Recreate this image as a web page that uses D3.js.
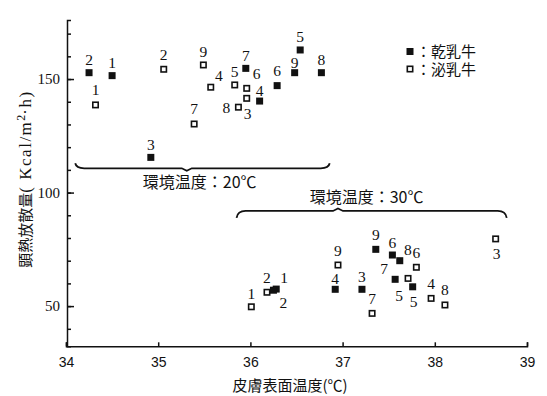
<!DOCTYPE html>
<html>
<head>
<meta charset="utf-8">
<script src="https://cdn.jsdelivr.net/npm/d3@7"></script>
<style>
  body { margin: 0; background: #fff; }
  svg { display: block; }
</style>
</head>
<body>
<div id="wrapper"></div>
<script>
// Data (cows numbered 1..9)
const cowIds = [1, 2, 3, 4, 5, 6, 7, 8, 9];

// 環境温度 20℃
const dry20Temp = [34.5, 34.25, 34.92, 36.1, 36.54, 36.29, 35.95, 36.77, 36.48];
const dry20Heat = [151.5, 152.8, 115.5, 140.3, 162.8, 147.1, 154.7, 152.8, 152.8];
const lact20Temp = [34.32, 35.06, 35.96, 35.57, 35.83, 35.96, 35.39, 35.87, 35.49];
const lact20Heat = [138.6, 154.3, 141.5, 146.4, 147.4, 145.9, 130.2, 137.6, 156.2];

// 環境温度 30℃
const dry30Temp = [36.28, 36.25, 37.21, 36.92, 37.76, 37.54, 37.57, 37.62, 37.36];
const dry30Heat = [57.5, 57.0, 57.4, 57.4, 58.5, 72.5, 61.8, 70.0, 75.0];
const lact30Temp = [36.01, 36.18, 38.66, 37.96, 37.71, 37.8, 37.32, 38.11, 36.95];
const lact30Heat = [49.7, 56.1, 79.6, 53.4, 62.2, 67.1, 46.8, 50.5, 68.1];

const xTicks = [34, 35, 36, 37, 38, 39];
const yTicks = [50, 100, 150];
const yMinorTicks = [40, 50, 60, 70, 80, 90, 100, 110, 120, 130, 140, 150, 160, 170];

const legendLabels = ['：乾乳牛', '：泌乳牛'];
const groupLabels = ['環境温度：20℃', '環境温度：30℃'];

// where the cow number sits next to its square
const dry20Place = ['n', 'n', 'n', 'nl', 'n', 'nh', 'n', 'n', 'nl'];
const lact20Place = ['nh', 'nh', 's', 'ne', 'n', 'nne', 'nh', 'w', 'n'];
const dry30Place = ['ne', 'se', 'n', 'nl', 's', 'n', 'nw', 'ne', 'nh'];
const lact30Place = ['n', 'nh', 's', 'nh', 'sw', 'nh', 'nh', 'nh', 'nh'];
const placeOffset = {
  n: [0, -13], nh: [0, -15], nl: [0, -10.5], ne: [8, -11.5], nne: [10, -15],
  nw: [-11, -11], s: [1, 15], se: [10, 12.5], sw: [-9, 17], w: [-12, 0],
};

const cjk = '"Noto Sans CJK JP", sans-serif';
const serif = '"Liberation Serif", "DejaVu Serif", serif';

function drawChart() {
  const dimensions = {
    width: 547,
    height: 396,
  };

  const xScale = d3.scaleLinear().domain([34, 39]).range([66, 527]);
  const yScale = d3.scaleLinear().domain([32.3, 176]).range([346.3, 20]);

  const svg = d3
    .select('#wrapper')
    .append('svg')
    .attr('width', dimensions.width)
    .attr('height', dimensions.height);

  // Axes
  const xAxis = d3
    .axisBottom(xScale)
    .tickValues(xTicks)
    .tickSize(-4)
    .tickSizeOuter(-4)
    .tickPadding(11)
    .tickFormat(d3.format('d'));
  const xAxisGroup = svg
    .append('g')
    .attr('transform', `translate(0, ${yScale.range()[0]})`)
    .call(xAxis);
  xAxisGroup
    .selectAll('text')
    .style('font-family', '"Liberation Sans", Arial, sans-serif')
    .style('font-size', '14px')
    .attr('fill', '#111');

  const yMinor = d3
    .axisLeft(yScale)
    .tickValues(yMinorTicks)
    .tickSize(-4)
    .tickSizeOuter(-4)
    .tickFormat('');
  svg.append('g').attr('transform', 'translate(67, 0)').call(yMinor);

  const yAxis = d3
    .axisLeft(yScale)
    .tickValues(yTicks)
    .tickSize(-7)
    .tickSizeOuter(0)
    .tickPadding(7);
  const yAxisGroup = svg.append('g').attr('transform', 'translate(67, 0)').call(yAxis);
  yAxisGroup.select('.domain').remove();
  yAxisGroup
    .selectAll('text')
    .style('font-family', serif)
    .style('font-size', '15px')
    .attr('fill', '#111');

  svg.selectAll('.domain, .tick line').attr('stroke', '#111').attr('stroke-width', 1.5);

  // Axis labels
  svg
    .append('text')
    .attr('x', 290)
    .attr('y', 391)
    .attr('text-anchor', 'middle')
    .style('font-family', cjk)
    .style('font-size', '15px')
    .attr('fill', '#111')
    .text('皮膚表面温度(℃)');

  const yLabel = svg
    .append('text')
    .attr('transform', 'translate(31, 179) rotate(-90)')
    .attr('text-anchor', 'middle')
    .attr('fill', '#111');
  yLabel.append('tspan').style('font-family', cjk).style('font-size', '15px').text('顕熱放散量');
  yLabel
    .append('tspan')
    .style('font-family', serif)
    .style('font-size', '17px')
    .style('letter-spacing', '1.5px')
    .text('( Kcal/m');
  yLabel
    .append('tspan')
    .style('font-family', serif)
    .style('font-size', '12px')
    .attr('dy', -6)
    .text('2');
  yLabel
    .append('tspan')
    .style('font-family', serif)
    .style('font-size', '17px')
    .style('letter-spacing', '1.5px')
    .attr('dy', 6)
    .text('·h)');

  // Group braces
  const braces = [
    { x0: 34.1, x1: 36.86, tip: 35.31, value: 110.7, dir: 1, labelX: 35.45, labelDy: 20, text: groupLabels[0] },
    { x0: 35.85, x1: 38.78, tip: 36.95, value: 91.9, dir: -1, labelX: 37.26, labelDy: -8, text: groupLabels[1] },
  ];
  const bracePath = (b) => {
    const x0 = xScale(b.x0);
    const x1 = xScale(b.x1);
    const t = xScale(b.tip);
    const y = yScale(b.value);
    const end = b.dir > 0 ? -5 : 7;
    const p = d3.path();
    p.moveTo(x0, y + end);
    p.quadraticCurveTo(x0 + 1, y, x0 + 9, y);
    p.lineTo(t - 5, y);
    p.lineTo(t, y + 2.5 * b.dir);
    p.lineTo(t + 5, y);
    p.lineTo(x1 - 9, y);
    p.quadraticCurveTo(x1 - 1, y, x1, y + end);
    return p.toString();
  };
  svg
    .selectAll('.brace')
    .data(braces)
    .enter()
    .append('path')
    .attr('class', 'brace')
    .attr('d', bracePath)
    .attr('fill', 'none')
    .attr('stroke', '#111')
    .attr('stroke-width', 1.8);
  svg
    .selectAll('.brace-label')
    .data(braces)
    .enter()
    .append('text')
    .attr('class', 'brace-label')
    .attr('x', (d) => xScale(d.labelX))
    .attr('y', (d) => yScale(d.value) + d.labelDy)
    .attr('text-anchor', 'middle')
    .style('font-family', cjk)
    .style('font-size', '16px')
    .attr('fill', '#111')
    .text((d) => d.text);

  // Points
  const series = [
    { temp: dry20Temp, heat: dry20Heat, place: dry20Place, filled: true },
    { temp: lact20Temp, heat: lact20Heat, place: lact20Place, filled: false },
    { temp: dry30Temp, heat: dry30Heat, place: dry30Place, filled: true },
    { temp: lact30Temp, heat: lact30Heat, place: lact30Place, filled: false },
  ];
  const points = series.flatMap((s) =>
    cowIds.map((id, i) => ({
      id,
      x: s.temp[i],
      y: s.heat[i],
      place: s.place[i],
      filled: s.filled,
    }))
  );

  const size = 7;
  svg
    .selectAll('.dot')
    .data(points)
    .enter()
    .append('rect')
    .attr('class', 'dot')
    .attr('x', (d) => xScale(d.x) - size / 2)
    .attr('y', (d) => yScale(d.y) - size / 2)
    .attr('width', (d) => (d.filled ? size : size - 1.6))
    .attr('height', (d) => (d.filled ? size : size - 1.6))
    .attr('transform', (d) => (d.filled ? null : 'translate(0.8, 0.8)'))
    .attr('fill', (d) => (d.filled ? '#111' : '#fff'))
    .attr('stroke', (d) => (d.filled ? 'none' : '#111'))
    .attr('stroke-width', 1.6);

  svg
    .selectAll('.num')
    .data(points)
    .enter()
    .append('text')
    .attr('class', 'num')
    .attr('x', (d) => xScale(d.x) + placeOffset[d.place][0])
    .attr('y', (d) => yScale(d.y) + placeOffset[d.place][1] + 5.5)
    .attr('text-anchor', 'middle')
    .style('font-family', serif)
    .style('font-size', '15.5px')
    .attr('fill', '#111')
    .text((d) => d.id);

  // Legend
  const legend = svg.append('g').attr('id', 'legend');
  const rowY = (i) => 51.5 + i * 17.5;
  legend
    .selectAll('rect')
    .data(legendLabels)
    .enter()
    .append('rect')
    .attr('x', (d, i) => (i === 0 ? 406.5 : 407.3))
    .attr('y', (d, i) => rowY(i) - (i === 0 ? 3.5 : 2.7))
    .attr('width', (d, i) => (i === 0 ? 7 : 5.4))
    .attr('height', (d, i) => (i === 0 ? 7 : 5.4))
    .attr('fill', (d, i) => (i === 0 ? '#111' : '#fff'))
    .attr('stroke', (d, i) => (i === 0 ? 'none' : '#111'))
    .attr('stroke-width', 1.6);
  legend
    .selectAll('text')
    .data(legendLabels)
    .enter()
    .append('text')
    .attr('x', 416)
    .attr('y', (d, i) => rowY(i) + 5.5)
    .style('font-family', '"Liberation Sans", "Noto Sans CJK JP", sans-serif')
    .style('font-size', '15px')
    .attr('fill', '#111')
    .text((d) => d);
}
drawChart();
</script>
</body>
</html>
